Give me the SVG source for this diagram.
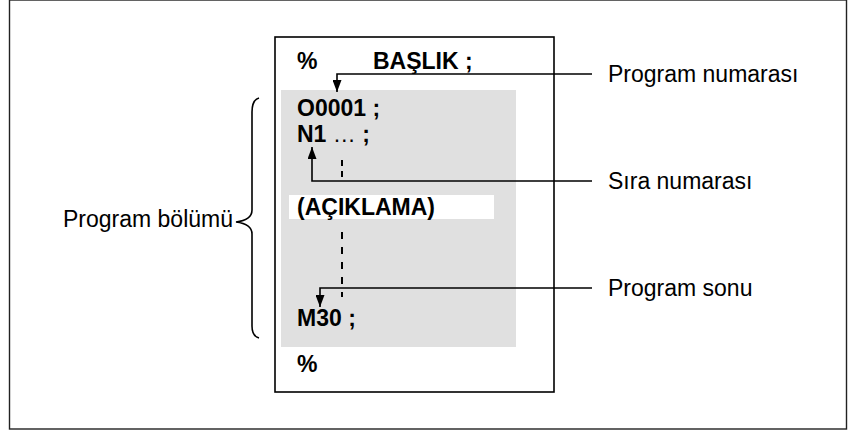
<svg xmlns="http://www.w3.org/2000/svg" width="848" height="430" viewBox="0 0 848 430">
<defs>
<style>
.b{font-family:"Liberation Sans",Arial,sans-serif;font-weight:bold;font-size:23px;fill:#000}
.n{font-family:"Liberation Sans",Arial,sans-serif;font-size:23px;fill:#000}
.ln{fill:none;stroke:#000;stroke-width:1.6}
</style>
<marker id="ah" viewBox="0 0 12 9" refX="12" refY="4.5" markerWidth="12" markerHeight="9" markerUnits="userSpaceOnUse" orient="auto">
<path d="M0,0 L12,4.5 L0,9 z" fill="#000"/>
</marker>
</defs>
<rect x="9.5" y="0" width="837" height="429" fill="#fff" stroke="#222" stroke-width="1.4"/>
<g id="program-box">
<rect x="275" y="37" width="279" height="355" fill="#fff" stroke="#000" stroke-width="1.6"/>
<rect x="281" y="90" width="235" height="257" fill="#e0e0e0"/>
<text class="b" x="297" y="69">%</text>
<text class="b" x="373" y="69">BAŞLIK ;</text>
<text class="b" x="297" y="116">O0001 ;</text>
<text class="b" x="297" y="142">N1 <tspan font-weight="normal">…</tspan> ;</text>
<rect x="289" y="195" width="205" height="24" fill="#fff"/>
<text class="b" x="297" y="215">(AÇIKLAMA)</text>
<text class="b" x="297" y="326">M30 ;</text>
<text class="b" x="297" y="372">%</text>
<line x1="342" y1="160" x2="342" y2="181" stroke="#000" stroke-width="2" stroke-dasharray="6 5"/>
<line x1="342" y1="232" x2="342" y2="297" stroke="#000" stroke-width="2" stroke-dasharray="7 8"/>
</g>
<g id="brace">
<path class="ln" d="M259,98 Q252,100 252,112 L252,210 Q252,220 236,222 Q252,224 252,234 L252,326 Q252,336 259,338"/>
<text class="n" x="233" y="227" text-anchor="end">Program bölümü</text>
</g>
<g id="labels">
<text class="n" x="608" y="82">Program numarası</text>
<text class="n" x="608" y="189">Sıra numarası</text>
<text class="n" x="608" y="296">Program sonu</text>
</g>
<g id="connectors">
<polyline class="ln" points="592,74 337,74 337,92" marker-end="url(#ah)"/>
<polyline class="ln" points="592,181 312,181 312,147" marker-end="url(#ah)"/>
<polyline class="ln" points="592,288 320,288 320,307" marker-end="url(#ah)"/>
</g>
</svg>
